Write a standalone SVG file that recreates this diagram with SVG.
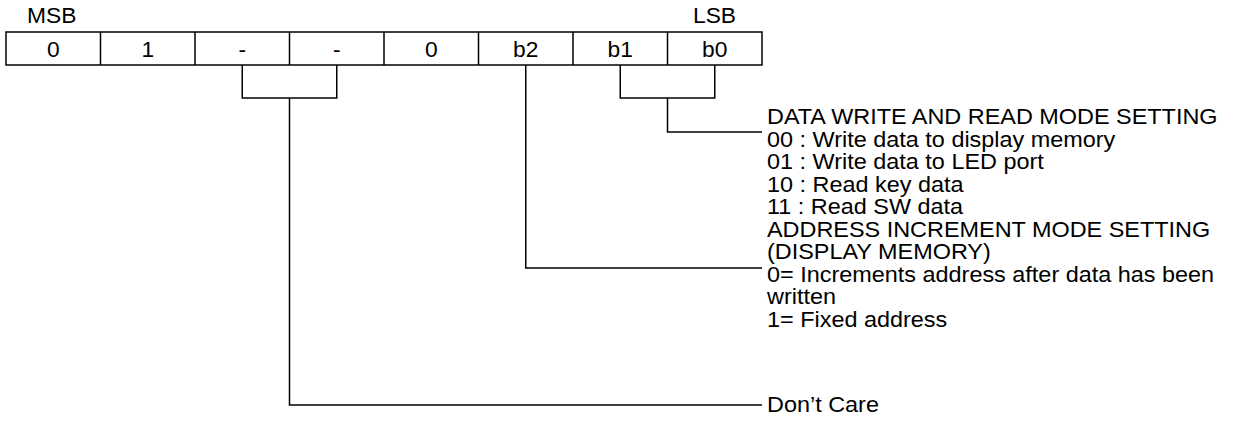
<svg xmlns="http://www.w3.org/2000/svg" width="1234" height="426" viewBox="0 0 1234 426">
<style>
  text { font-family: "Liberation Sans", Arial, sans-serif; font-size: 21.5px; fill: #000; }
  .c { text-anchor: middle; }
  .ln { fill: none; stroke: #000; stroke-width: 1.5; }
</style>
<rect width="1234" height="426" fill="#fff"/>
<g id="labels">
  <text transform="translate(27,23) scale(1.06,1)">MSB</text>
  <text transform="translate(693,23) scale(1.06,1)">LSB</text>
</g>
<g id="register">
  <rect class="ln" x="6" y="32" width="756" height="33"/>
  <path class="ln" d="M100.5 32V65M195 32V65M289.5 32V65M384 32V65M478.5 32V65M573 32V65M667.5 32V65"/>
  <text class="c" transform="translate(53.25,57) scale(1.06,1)">0</text>
  <text class="c" transform="translate(147.75,57) scale(1.06,1)">1</text>
  <text class="c" transform="translate(242.25,57) scale(1.06,1)">-</text>
  <text class="c" transform="translate(336.75,57) scale(1.06,1)">-</text>
  <text class="c" transform="translate(431.25,57) scale(1.06,1)">0</text>
  <text class="c" transform="translate(525.75,57) scale(1.06,1)">b2</text>
  <text class="c" transform="translate(620.25,57) scale(1.06,1)">b1</text>
  <text class="c" transform="translate(714.75,57) scale(1.06,1)">b0</text>
</g>
<g id="connectors">
  <path class="ln" d="M242.25 65V98H336.75V65M289.5 98V405H762"/>
  <path class="ln" d="M525.75 65V268H762"/>
  <path class="ln" d="M620.25 65V98H714.75V65M667.5 98V132H762"/>
</g>
<g id="data-mode">
  <text transform="translate(767,124) scale(1.09,1)">DATA WRITE AND READ MODE SETTING</text>
  <text transform="translate(767,147) scale(1.09,1)">00 : Write data to display memory</text>
  <text transform="translate(767,169) scale(1.09,1)">01 : Write data to LED port</text>
  <text transform="translate(767,192) scale(1.09,1)">10 : Read key data</text>
  <text transform="translate(767,214) scale(1.09,1)">11 : Read SW data</text>
</g>
<g id="address-mode">
  <text transform="translate(767,237) scale(1.09,1)">ADDRESS INCREMENT MODE SETTING</text>
  <text transform="translate(767,259) scale(1.09,1)">(DISPLAY MEMORY)</text>
  <text transform="translate(767,282) scale(1.09,1)">0= Increments address after data has been</text>
  <text transform="translate(767,304) scale(1.09,1)">written</text>
  <text transform="translate(767,327) scale(1.09,1)">1= Fixed address</text>
</g>
<g id="dont-care">
  <text transform="translate(767,412) scale(1.09,1)">Don’t Care</text>
</g>
</svg>
